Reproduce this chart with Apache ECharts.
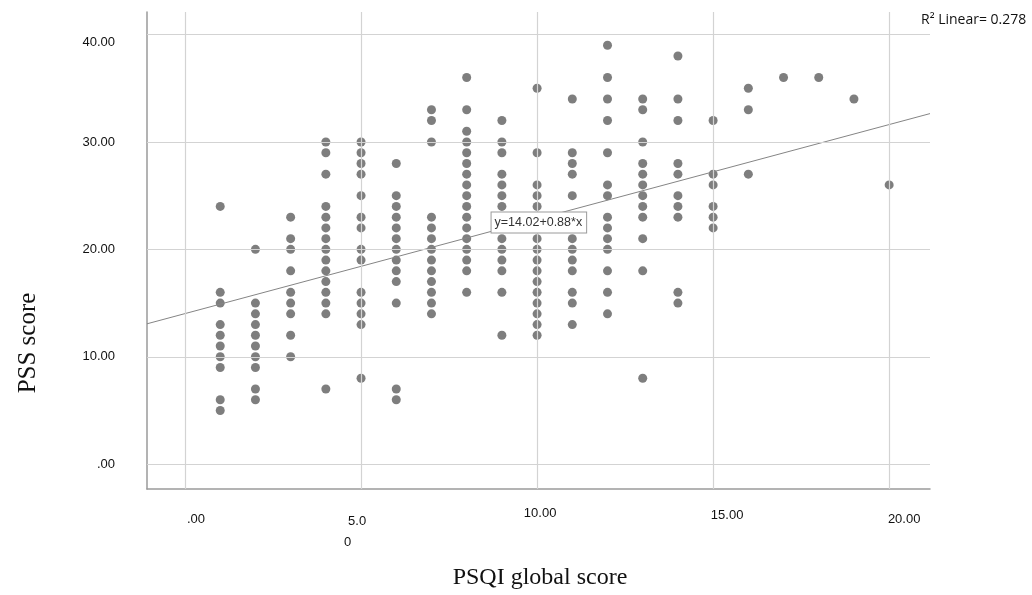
<!DOCTYPE html>
<html>
<head>
<meta charset="utf-8">
<script src="https://cdn.jsdelivr.net/npm/echarts@6/dist/echarts.min.js"></script>
<style>
html,body{margin:0;padding:0;background:#fff;}
#chart{width:1032px;height:595px;}
</style>
</head>
<body>
<div id="chart"></div>
<script>
// PSQI global score (x) for each column of points
const psqiValues = [1,2,3,4,5,6,7,8,9,10,11,12,13,14,15,16,17,18,19,20];
// PSS scores observed at each PSQI value (same order as psqiValues)
const pssColumns = [
  [24,16,15,13,12,11,10,9,6,5],
  [20,15,14,13,12,11,10,9,7,6],
  [23,21,20,18,16,15,14,12,10],
  [30,29,27,24,23,22,21,20,19,18,17,16,15,14,7],
  [30,29,28,27,25,23,22,20,19,16,15,14,13,8],
  [28,25,24,23,22,21,20,19,18,17,15,7,6],
  [33,32,30,23,22,21,20,19,18,17,16,15,14],
  [36,33,31,30,29,28,27,26,25,24,23,22,21,20,19,18,16],
  [32,30,29,27,26,25,24,23,22,21,20,19,18,16,12],
  [35,29,26,25,24,23,22,21,20,19,18,17,16,15,14,13,12],
  [34,29,28,27,25,23,22,21,20,19,18,16,15,13],
  [39,36,34,32,29,26,25,23,22,21,20,18,16,14],
  [34,33,30,28,27,26,25,24,23,21,18,8],
  [38,34,32,28,27,25,24,23,16,15],
  [32,27,26,24,23,22],
  [35,33,27],
  [36],
  [36],
  [34],
  [26]
];
// Fit line reported in the figure
const fitIntercept = 14.02;
const fitSlope = 0.88;
const fitLabel = 'y=14.02+0.88*x';
const rSquaredLabel = 'R\u00B2 Linear= 0.278';
// Tick values and labels
const xTickValues = [0,5,10,15,20];
const xTickLabels = ['.00','5.0\n0','10.00','15.00','20.00'];
const yTickValues = [0,10,20,30,40];
const yTickLabels = ['.00','10.00','20.00','30.00','40.00'];
const xTitle = 'PSQI global score';
const yTitle = 'PSS score';

const xMin = -1.08, xMax = 21.16, yMin = -2.31, yMax = 42.1;

const points = [];
psqiValues.forEach((x, i) => pssColumns[i].forEach(y => points.push([x, y])));
const fitLine = [[xMin, fitIntercept + fitSlope * xMin], [xMax, fitIntercept + fitSlope * xMax]];

const xRichKeys = ['x0','x5','x10','x15','x20'];
const chart = echarts.init(document.getElementById('chart'), null, {renderer: 'canvas'});
const gridColor = '#d3d3d3';
const option = {
  backgroundColor: '#fff',
  animation: false,
  grid: {left: 147, top: 12, width: 783, height: 477},
  xAxis: {
    type: 'value', min: xMin, max: xMax,
    splitLine: {show: false},
    axisTick: {show: false},
    axisLine: {show: true, onZero: false, lineStyle: {color: '#9a9a9a', width: 1.5}},
    axisLabel: {
      customValues: xTickValues,
      margin: 14,
      color: '#111',
      fontFamily: 'Liberation Sans',
      fontSize: 13,
      formatter: function (v) {
        const i = xTickValues.indexOf(Math.round(v));
        if (i < 0) return '';
        if (i === 1) return '{x5|5.0}\n{x5b|0}';
        return '{' + xRichKeys[i] + '|' + xTickLabels[i] + '}';
      },
      rich: {
        x0: {padding: [10,0,0,22], fontSize: 13, fontFamily: 'Liberation Sans', color: '#111'},
        x5: {padding: [12,0,0,14], fontSize: 13, fontFamily: 'Liberation Sans', color: '#111', width: 40, align: 'left'},
        x5b: {padding: [8,0,0,10], fontSize: 13, fontFamily: 'Liberation Sans', color: '#111', width: 40, align: 'left'},
        x10: {padding: [4,0,0,6], fontSize: 13, fontFamily: 'Liberation Sans', color: '#111'},
        x15: {padding: [6,0,0,28], fontSize: 13, fontFamily: 'Liberation Sans', color: '#111'},
        x20: {padding: [10,0,0,30], fontSize: 13, fontFamily: 'Liberation Sans', color: '#111'}
      }
    }
  },
  yAxis: {
    type: 'value', min: yMin, max: yMax,
    splitLine: {show: false},
    axisTick: {show: false},
    axisLine: {show: true, onZero: false, lineStyle: {color: '#9a9a9a', width: 1.5}},
    axisLabel: {
      customValues: yTickValues,
      margin: 32,
      color: '#111',
      fontFamily: 'Liberation Sans',
      fontSize: 13,
      formatter: function (v) {
        const i = yTickValues.indexOf(Math.round(v));
        if (i < 0) return '';
        if (i === 4) return '{top|' + yTickLabels[i] + '}';
        return yTickLabels[i];
      },
      rich: {
        top: {padding: [16,0,0,0], fontSize: 13, fontFamily: 'Liberation Sans', color: '#111'}
      }
    }
  },
  series: [
    {
      type: 'line',
      data: [],
      z: 1,
      silent: true,
      markLine: {
        silent: true,
        symbol: 'none',
        animation: false,
        label: {show: false},
        lineStyle: {color: gridColor, width: 1.2, type: 'solid'},
        data: xTickValues.map(v => ({xAxis: v})).concat(yTickValues.map(v => ({yAxis: v})))
      }
    },
    {
      type: 'scatter',
      data: points,
      symbol: 'circle',
      symbolSize: 9,
      z: 3,
      itemStyle: {color: '#5e5e5e'}
    },
    {
      type: 'line',
      data: fitLine,
      showSymbol: false,
      symbol: 'none',
      z: 4,
      lineStyle: {color: '#858585', width: 1},
      markPoint: {
        symbol: 'rect',
        symbolSize: 0,
        silent: true,
        data: [{coord: [10.05, 22.5]}],
        label: {
          show: true,
          position: 'inside',
          formatter: fitLabel,
          fontFamily: 'Liberation Sans',
          fontSize: 12.5,
          color: '#333',
          backgroundColor: '#fff',
          borderColor: '#9a9a9a',
          borderWidth: 1,
          padding: [4, 4, 3, 3]
        }
      }
    }
  ],
  graphic: [
    {type: 'text', left: 921, top: 13, style: {text: rSquaredLabel, font: '14px "Open Sans"', fill: '#111'}},
    {type: 'text', x: 540, y: 578, style: {text: xTitle, font: '24px "Liberation Serif"', fill: '#111', align: 'center', verticalAlign: 'middle'}},
    {type: 'text', x: 28, y: 343, rotation: Math.PI / 2, style: {text: yTitle, font: '25px "Liberation Serif"', fill: '#111', align: 'center', verticalAlign: 'middle'}}
  ]
};
chart.setOption(option);
</script>
</body>
</html>
